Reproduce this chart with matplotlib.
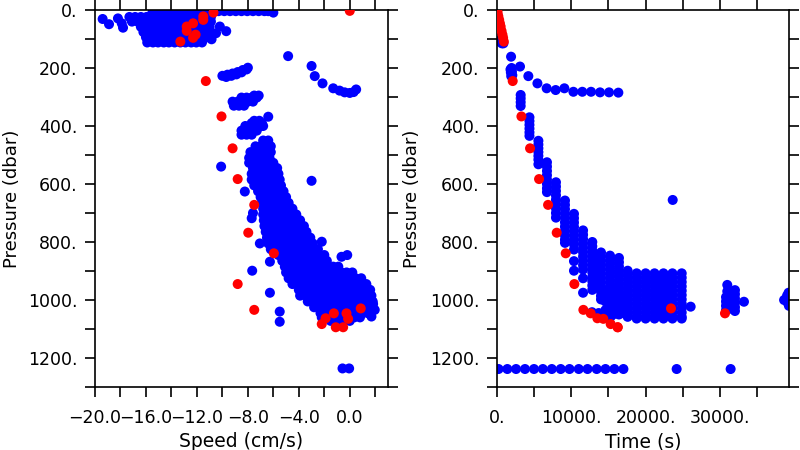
import matplotlib
matplotlib.use("Agg")
import matplotlib.pyplot as plt
from matplotlib.ticker import FixedLocator, FuncFormatter

plt.rcParams['font.family'] = ['DejaVu Sans']

BLUE = '#0000ff'
RED = '#ff0000'

# ---------------- ticks ----------------
speed_ticks = [-20, -18, -16, -14, -12, -10, -8, -6, -4, -2, 0, 2]
pressure_ticks = [0, 100, 200, 300, 400, 500, 600, 700, 800, 900, 1000, 1100, 1200, 1300]
time_ticks = [0, 5000, 10000, 15000, 20000, 25000, 30000, 35000]

# ---------------- red points (shared by both panels) ----------------
red_time = [60, 120, 220, 330, 430, 530, 650, 770, 860, 960,
            2150, 3320, 4480, 5690, 6900, 8060, 9270, 10430, 11640, 12620,
            13520, 14320, 15310, 16250, 16250, 23410, 30660]
red_pressure = [3, 9, 22, 34, 46, 57, 72, 85, 96, 109,
                245, 367, 477, 583, 672, 768, 839, 945, 1034, 1046,
                1063, 1065, 1083, 1094, 1094, 1029, 1046]
red_speed = [0.0, -10.7, -11.5, -11.5, -12.3, -12.8, -12.8, -12.1, -12.3, -13.3,
             -11.3, -10.07, -9.2, -8.8, -7.5, -7.97, -5.96, -8.8, -7.5, -1.25,
             -1.9, -0.13, -2.2, -1.1, -0.52, 0.86, -0.26]

# ---------------- left panel: blue, near-surface band ----------------
band_p = [4, 10, 24, 40, 58, 76, 94, 112]
band_speed = [
    [-14.8, -14.35, -13.9, -13.45, -13.0, -12.55, -12.1, -11.65, -11.2, -10.75, -10.3,
     -9.85, -9.4, -8.95, -8.5, -8.05, -7.6, -7.15, -6.7, -6.4],
    [-15.5, -15.05, -14.6, -14.15, -13.7, -13.25, -12.8, -12.35, -11.9, -11.45, -11.0],
    [-17.3, -16.85, -16.4, -15.95, -15.5, -15.05, -14.55, -14.1, -13.65, -13.2, -12.75,
     -12.3, -11.85, -11.35, -10.9],
    [-17.1, -16.65, -16.2, -15.75, -15.35, -14.9, -14.45, -14.0, -13.55, -13.1, -12.7,
     -12.25, -11.8, -11.35, -10.9],
    [-16.4, -15.95, -15.5, -15.05, -14.6, -14.15, -13.7, -13.25, -12.8, -12.35, -11.9,
     -11.45, -11.0],
    [-16.2, -15.75, -15.35, -14.9, -14.5, -14.05, -13.6, -13.2, -12.75, -12.3, -11.9,
     -11.45, -11.0],
    [-16.0, -15.55, -15.15, -14.7, -14.25, -13.8, -13.4, -12.95, -12.5, -12.05, -11.65, -11.2],
    [-15.9, -15.45, -15.05, -14.6, -14.2, -13.75, -13.3, -12.9, -12.45, -12.05, -11.6],
]
band_extra_speed = [-19.4, -18.9, -18.2, -17.9, -17.8, -10.2, -9.7, -10.5, -10.85, -6.0]
band_extra_p = [31, 49, 29, 46, 61, 57, 73, 80, 101, 9]

# ---------------- left panel: blue streaks 200-450 dbar ----------------
streak_p = [227, 223, 219, 214, 207, 199, 231, 227, 222, 215, 205,
            330, 330, 330, 316, 316, 316, 316, 316, 302, 302, 302, 302, 295, 295,
            430, 430, 430, 416, 416, 416, 416, 400, 400, 400, 400, 400, 390, 390, 390, 382, 382]
streak_speed = [-10.0, -9.6, -9.2, -8.8, -8.4, -8.0, -9.7, -9.3, -8.9, -8.5, -8.1,
                -9.1, -8.7, -8.3, -9.2, -8.8, -8.4, -8.0, -7.6, -8.5, -8.1, -7.7, -7.3, -7.5, -7.15,
                -8.5, -8.1, -7.7, -8.5, -8.1, -7.7, -7.3, -8.2, -7.8, -7.4, -7.0, -6.8,
                -7.7, -7.3, -6.9, -7.5, -7.1]

# ---------------- left panel: main blue cloud ----------------
cloud_p = [450, 470, 490, 510, 527, 545, 565, 585, 605, 625, 645, 665, 685, 705, 725,
           745, 765, 785, 805, 825, 845, 865, 885, 905, 925, 945, 965, 985, 1005, 1025,
           1045, 1060, 1072]
cloud_speed = [
    [-6.8, -6.4],
    [-7.4, -7.0, -6.6, -6.2],
    [-7.8, -7.4, -7.0, -6.6, -6.2],
    [-7.9, -7.5, -7.1, -6.7, -6.3],
    [-7.9, -7.5, -7.1, -6.7, -6.3, -6.0],
    [-7.6, -7.2, -6.85, -6.45, -6.1, -5.7],
    [-7.7, -7.3, -6.9, -6.45, -6.05, -5.6],
    [-7.7, -7.25, -6.8, -6.4, -5.95, -5.5],
    [-7.5, -7.1, -6.65, -6.25, -5.8, -5.4],
    [-7.2, -6.8, -6.4, -6.0, -5.6, -5.2],
    [-7.0, -6.6, -6.2, -5.8, -5.4, -5.0],
    [-6.9, -6.5, -6.05, -5.65, -5.2, -4.8],
    [-6.8, -6.35, -5.9, -5.45, -4.95, -4.5],
    [-6.8, -6.35, -5.95, -5.5, -5.05, -4.6, -4.2],
    [-6.75, -6.35, -5.95, -5.5, -5.1, -4.7, -4.3, -3.9],
    [-6.7, -6.25, -5.8, -5.4, -4.95, -4.5, -4.05, -3.6],
    [-6.6, -6.2, -5.8, -5.4, -5.0, -4.6, -4.2, -3.8, -3.4],
    [-6.5, -6.1, -5.65, -5.25, -4.8, -4.4, -3.95, -3.5, -3.1],
    [-6.4, -5.95, -5.5, -5.1, -4.65, -4.2, -3.75, -3.3, -2.9],
    [-6.2, -5.8, -5.4, -4.95, -4.55, -4.15, -3.75, -3.3, -2.9, -2.5],
    [-5.6, -5.15, -4.7, -4.25, -3.8, -3.35, -2.9, -2.45, -2.0],
    [-5.3, -4.85, -4.4, -4.0, -3.55, -3.1, -2.65, -2.2, -1.8],
    [-5.1, -4.7, -4.25, -3.85, -3.4, -3.0, -2.6, -2.15, -1.75, -1.3, -0.9],
    [-5.0, -4.55, -4.15, -3.7, -3.25, -2.85, -2.4, -1.95, -1.55, -1.1, -0.65, -0.25, 0.2],
    [-4.8, -4.35, -3.9, -3.5, -3.05, -2.6, -2.15, -1.75, -1.3, -0.85, -0.4, 0.05, 0.45, 0.9],
    [-4.5, -4.05, -3.6, -3.15, -2.7, -2.25, -1.8, -1.4, -0.95, -0.5, -0.05, 0.4, 0.85, 1.3],
    [-4.0, -3.55, -3.15, -2.7, -2.3, -1.85, -1.4, -1.0, -0.55, -0.15, 0.3, 0.75, 1.15, 1.6],
    [-3.9, -3.45, -3.05, -2.6, -2.2, -1.75, -1.3, -0.9, -0.45, -0.05, 0.4, 0.85, 1.25, 1.7],
    [-3.3, -2.9, -2.45, -2.05, -1.6, -1.2, -0.75, -0.35, 0.1, 0.5, 0.95, 1.35, 1.8],
    [-2.8, -2.35, -1.9, -1.45, -1.0, -0.55, -0.1, 0.35, 0.8, 1.25, 1.7],
    [-2.3, -1.9, -1.5, -1.05, -0.65, -0.25, 0.15, 0.6, 1.0, 1.4],
    [-2.2, -1.75, -1.35, -0.9, -0.5, -0.05, 0.35, 0.8],
    [-1.5, -1.0, -0.5, 0.0],
]

# ---------------- left panel: isolated blue points ----------------
left_curve_speed = [-4.84, -3.0, -2.75, -2.14, -1.3, -0.8, -0.4, 0.0, 0.3, 0.5]
left_curve_p = [159, 193, 228, 253, 270, 278, 284, 286, 283, 274]
left_out_speed = [-10.1, -8.24, -7.7, -7.6, -7.06, -6.27, -7.66, -6.27, -5.5, -5.5, -3.0,
                  -2.2, -0.65, -0.2, 1.7, 1.96, 1.83, -0.57, -0.05, -6.4]
left_out_p = [540, 626, 718, 700, 805, 868, 899, 975, 1040, 1075, 589,
              799, 851, 845, 1057, 1034, 1014, 1236, 1236, 368]

# ---------------- right panel: blue points ----------------
descent_time = [150, 200, 250, 350, 500, 700, 900]
descent_p = [20, 50, 80, 100, 110, 115, 115]
right_curve_time = [1930, 3130, 4250, 5470, 6710, 7920, 9090, 10300, 11500, 12670, 13880, 15090, 16340]
right_curve_p = [161, 195, 228, 253, 270, 276, 270, 282, 282, 282, 284, 284, 285]
colA_time = [1850, 2000, 1900, 2050, 1950, 2100]
colA_p = [205, 200, 215, 212, 228, 225]
col_time = [3220, 4400, 5600, 6750, 7960, 9170, 10380, 11600, 12840, 14010, 15220, 16420, 17590]
col_p = [
    [293, 305, 318, 331],
    [370, 383, 396, 409, 422, 434],
    [451, 464, 477, 490, 503, 516, 532],
    [525, 540, 555, 570, 585, 600, 615, 628],
    [594, 609, 624, 639, 654, 669, 684, 700, 716],
    [657, 672, 687, 702, 717, 732, 747, 762, 777, 792, 803],
    [703, 718, 733, 748, 763, 778, 793, 808, 826, 866, 899],
    [760, 775, 790, 805, 820, 835, 850, 865, 880, 895, 925, 975],
    [800, 815, 830, 845, 860, 875, 890, 905, 920, 935, 950, 965],
    [836, 851, 866, 881, 896, 911, 926, 941, 956, 971, 986, 998],
    [847, 862, 877, 892, 907, 922, 937, 952, 967, 982, 997, 1012, 1027, 1044],
    [855, 870, 885, 900, 915, 930, 945, 960, 975, 990, 1005, 1020, 1035, 1050],
    [899, 914, 929, 944, 959, 974, 989, 1004, 1019, 1034, 1049, 1058],
]
deep_col_time = [18800, 20000, 21200, 22400, 23600, 24850]
deep_col_p = [908, 923, 938, 953, 968, 983, 998, 1013, 1028, 1043, 1058, 1064]
fill_time = [14600, 14600, 14600, 15800, 15800, 15800, 15800, 17000, 17000, 17000,
             12800, 13700, 14600, 15300]
fill_p = [975, 1005, 1035, 960, 990, 1020, 1048, 985, 1015, 1045,
          1042, 1045, 1050, 1058]
right_extra_time = [23640, 26050, 30970, 30970, 30800, 30800, 30800, 30800, 31300, 31300, 31300,
                    32000, 32000, 32000, 32000, 32000, 32000, 33210,
                    38600, 39000, 39100, 39200, 39250]
right_extra_p = [655, 1023, 948, 970, 990, 1005, 1020, 1035, 995, 1010, 1030,
                 966, 980, 995, 1010, 1025, 1038, 1006,
                 1000, 985, 1010, 975, 1020]
bottom_time = [250, 1430, 2600, 3800, 5010, 6200, 7400, 8600, 9780, 11020, 12200,
               13430, 14610, 15810, 17020, 24170, 31420]
bottom_p_value = 1238

# ---------------- assemble ----------------
ls, lp = [], []
for p, row in zip(band_p, band_speed):
    ls += row
    lp += [p] * len(row)
for p, row in zip(cloud_p, cloud_speed):
    ls += row
    lp += [p] * len(row)
ls += band_extra_speed + streak_speed + left_curve_speed + left_out_speed
lp += band_extra_p + streak_p + left_curve_p + left_out_p

rt, rp = [], []
rt += descent_time + right_curve_time + colA_time
rp += descent_p + right_curve_p + colA_p
for t, col in zip(col_time, col_p):
    rt += [t] * len(col)
    rp += col
for t in deep_col_time:
    rt += [t] * len(deep_col_p)
    rp += deep_col_p
rt += fill_time + right_extra_time + bottom_time
rp += fill_p + right_extra_p + [bottom_p_value] * len(bottom_time)

# ---------------- draw ----------------
fig = plt.figure(figsize=(8, 4.5), dpi=100)
W, H = 800.0, 450.0
ax1 = fig.add_axes([95 / W, 1 - 387 / H, 293 / W, 377 / H])
ax2 = fig.add_axes([496.7 / W, 1 - 387 / H, 292.6 / W, 377 / H])

S = 52
ax1.scatter(ls, lp, s=S, c=BLUE, edgecolors='none', zorder=2)
ax1.scatter(red_speed, red_pressure, s=S, c=RED, edgecolors='none', zorder=3)
ax2.scatter(rt, rp, s=S, c=BLUE, edgecolors='none', zorder=2)
ax2.scatter(red_time, red_pressure, s=S, c=RED, edgecolors='none', zorder=3)

ax1.set_xlim(-20, 3)
ax2.set_xlim(0, 39300)
for ax in (ax1, ax2):
    ax.set_ylim(1300, 0)
    ax.yaxis.set_major_locator(FixedLocator(pressure_ticks))
    ax.yaxis.set_major_formatter(FuncFormatter(
        lambda v, pos: f"{int(round(v))}." if int(round(v)) % 200 == 0 and v <= 1200 else ""))
    ax.tick_params(which='both', direction='out', length=7.5, width=1.2, colors='black',
                   top=True, right=True, labeltop=False, labelright=False, labelsize=12.5)
    ax.tick_params(axis='x', pad=8)
    ax.tick_params(axis='y', pad=5)
    for sp in ax.spines.values():
        sp.set_linewidth(1.2)
    ax.set_ylabel('Pressure (dbar)', fontsize=13)

def fmt_speed(v, pos):
    r = int(round(v))
    if r % 4 != 0:
        return ""
    if r == 0:
        return "0.0"
    return f"{r:.1f}".replace('-', '\u2212')

ax1.xaxis.set_major_locator(FixedLocator(speed_ticks))
ax1.xaxis.set_major_formatter(FuncFormatter(fmt_speed))
ax2.xaxis.set_major_locator(FixedLocator(time_ticks))
ax2.xaxis.set_major_formatter(FuncFormatter(
    lambda v, pos: f"{int(round(v))}." if int(round(v)) % 10000 == 0 else ""))

ax1.set_xlabel('Speed (cm/s)', fontsize=13.5)
ax2.set_xlabel('Time (s)', fontsize=13.5)
ax1.xaxis.set_label_coords(0.5, -0.12)
ax2.xaxis.set_label_coords(0.5, -0.12)
ax1.yaxis.set_label_coords((21 - 95) / 293, 0.5)
ax2.yaxis.set_label_coords((421 - 496.7) / 292.6, 0.5)

fig.savefig('out.png', dpi=100)
